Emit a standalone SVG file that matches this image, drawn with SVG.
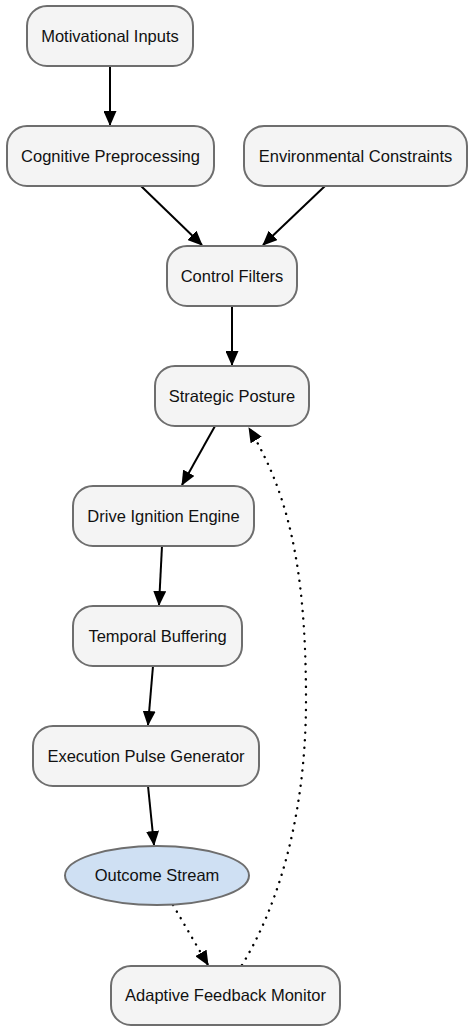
<svg xmlns="http://www.w3.org/2000/svg" width="474" height="1035" viewBox="0 0 474 1035">
<style>
.n rect{fill:#f4f4f4;stroke:#6e6e6e;stroke-width:2}
.n ellipse{fill:#cfe0f3;stroke:#6e6e6e;stroke-width:2}
.n text{font-family:"Liberation Sans",Arial,sans-serif;font-size:16.5px;fill:#111;text-anchor:middle}
.e path{fill:none;stroke:#000;stroke-width:2}
.e .d{stroke-width:2.4;stroke-dasharray:0.1 7.5;stroke-linecap:round}
</style>
<defs>
<marker id="a" markerUnits="userSpaceOnUse" markerWidth="15" markerHeight="13" refX="14" refY="6.5" orient="auto" viewBox="0 0 15 13">
<path d="M0,0 L15,6.5 L0,13 Z" fill="#000"/>
</marker>
</defs>
<rect width="474" height="1035" fill="#fff"/>
<g class="e">
<path d="M110,66 L110,125" marker-end="url(#a)"/>
<path d="M141,186 L202,245" marker-end="url(#a)"/>
<path d="M325,186 L263,245" marker-end="url(#a)"/>
<path d="M232,306 L232,365" marker-end="url(#a)"/>
<path d="M215,426 L182,485" marker-end="url(#a)"/>
<path d="M162,546 L159,605" marker-end="url(#a)"/>
<path d="M153,666 L148,725" marker-end="url(#a)"/>
<path d="M148,786 L154,845" marker-end="url(#a)"/>
<path class="d" d="M173,905 L208,965" marker-end="url(#a)"/>
<path class="d" d="M242,965 C271,918 306,830 306,700 C306,560 286,490 249,428" marker-end="url(#a)"/>
</g>
<g id="motivational" class="n"><rect x="27" y="6" width="166" height="60" rx="20"/><text x="110" y="41.8">Motivational Inputs</text></g>
<g id="cognitive" class="n"><rect x="7" y="126" width="207" height="60" rx="20"/><text x="110.5" y="161.8">Cognitive Preprocessing</text></g>
<g id="environmental" class="n"><rect x="244" y="126" width="223" height="60" rx="20"/><text x="355.5" y="161.8">Environmental Constraints</text></g>
<g id="control" class="n"><rect x="167" y="246" width="130" height="60" rx="20"/><text x="232" y="281.8">Control Filters</text></g>
<g id="strategic" class="n"><rect x="155" y="366" width="154" height="60" rx="20"/><text x="232" y="401.8">Strategic Posture</text></g>
<g id="drive" class="n"><rect x="73" y="486" width="181" height="60" rx="20"/><text x="163.5" y="521.8">Drive Ignition Engine</text></g>
<g id="temporal" class="n"><rect x="73" y="606" width="169" height="60" rx="20"/><text x="157.5" y="641.8">Temporal Buffering</text></g>
<g id="execution" class="n"><rect x="33" y="726" width="226" height="60" rx="20"/><text x="146" y="761.8">Execution Pulse Generator</text></g>
<g id="outcome" class="n"><ellipse cx="157" cy="875.5" rx="92" ry="29.5"/><text x="157" y="881.3">Outcome Stream</text></g>
<g id="adaptive" class="n"><rect x="111" y="966" width="229" height="59" rx="20"/><text x="225.5" y="1001.3">Adaptive Feedback Monitor</text></g>
</svg>
